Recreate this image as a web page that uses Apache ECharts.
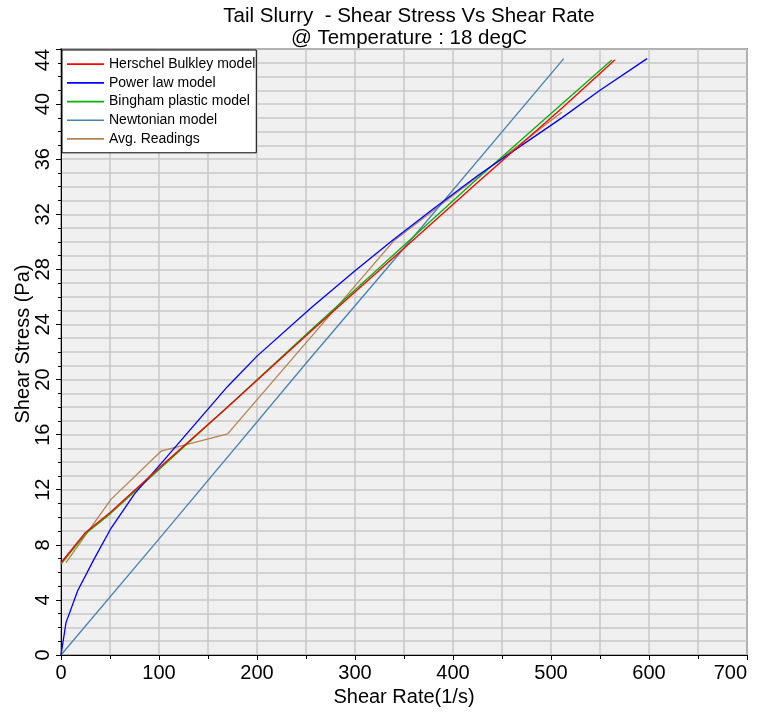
<!DOCTYPE html>
<html>
<head>
<meta charset="utf-8">
<script src="https://cdn.jsdelivr.net/npm/echarts@6/dist/echarts.min.js"></script>
<style>
html,body{margin:0;padding:0;background:#fff;}
#chart{width:757px;height:714px;}
</style>
</head>
<body>
<div id="chart"></div>
<script>
// ---- data ----
const seriesNames = ['Herschel Bulkley model', 'Power law model', 'Bingham plastic model', 'Newtonian model', 'Avg. Readings'];

const hbX = [0, 25, 51, 102, 170, 255, 340, 425, 511, 565];
const hbY = [6.7, 8.9, 10.4, 13.7, 18.0, 23.5, 28.9, 34.3, 39.7, 43.2];

const powerX = [0, 5.1, 17, 34, 51, 75, 102, 170, 200, 255, 300, 340, 380, 425, 470, 511, 550, 598];
const powerY = [0, 2.35, 4.67, 7.0, 9.2, 11.7, 13.9, 19.5, 21.7, 25.2, 27.9, 30.2, 32.4, 34.8, 37.0, 39.0, 41.0, 43.3];

const binghamX = [0, 25, 51, 102, 170, 255, 340, 425, 511, 562];
const binghamY = [6.6, 8.8, 10.3, 13.6, 18.0, 23.6, 29.1, 34.6, 40.0, 43.2];

const newtonX = [0, 102, 255, 340, 513];
const newtonY = [0, 8.6, 21.6, 28.7, 43.3];

const readX = [5.1, 51, 102, 170, 340, 511];
const readY = [6.7, 11.3, 14.8, 16.05, 30.1, 39.4];

const xTicks = [0, 100, 200, 300, 400, 500, 600, 700];
const yTicks = [0, 4, 8, 12, 16, 20, 24, 28, 32, 36, 40, 44];

const titleText = 'Tail Slurry  - Shear Stress Vs Shear Rate\n@ Temperature : 18 degC';
const xName = 'Shear Rate(1/s)';
const yName = 'Shear Stress (Pa)';

// ---- build ----
function pairs(xs, ys) { return xs.map((x, i) => [x, ys[i]]); }
const colors = ['#FF0000', '#0000FF', '#00B400', '#4682B4', '#B5834F'];
const dataSets = [pairs(hbX, hbY), pairs(powerX, powerY), pairs(binghamX, binghamY), pairs(newtonX, newtonY), pairs(readX, readY)];

const FONT = "'Liberation Sans', Arial, sans-serif";
const gridLine = { show: true, lineStyle: { color: '#C8C8C8', width: 1.5 } };
const lineIcon = 'path://M0,0 M37,14 M0,6.3 L37,6.3 L37,8 L0,8 Z';

const chart = echarts.init(document.getElementById('chart'), null, { renderer: 'canvas' });
chart.setOption({
  animation: false,
  backgroundColor: '#FFFFFF',
  title: {
    text: titleText,
    left: 404,
    textAlign: 'center',
    top: 0,
    textStyle: { fontFamily: FONT, fontSize: 20.5, fontWeight: 'normal', color: '#000', lineHeight: 22 }
  },
  legend: {
    orient: 'vertical',
    left: 62,
    top: 50,
    data: seriesNames.map(n => ({ name: n, icon: lineIcon })),
    backgroundColor: '#FFFFFF',
    borderColor: '#000',
    borderWidth: 1,
    borderRadius: 0,
    padding: [7, 1, 7, 5],
    itemGap: 4.7,
    itemWidth: 37,
    itemHeight: 14,
    textStyle: { fontFamily: FONT, fontSize: 14, color: '#000' }
  },
  grid: {
    left: 61, right: 10, top: 49, bottom: 59,
    containLabel: false,
    outerBoundsMode: 'none',
    show: true,
    backgroundColor: '#F0F0F0',
    borderColor: '#404040',
    borderWidth: 1.5
  },
  xAxis: {
    type: 'value',
    min: xTicks[0],
    max: xTicks[xTicks.length - 1],
    interval: xTicks[1] - xTicks[0],
    name: xName,
    nameLocation: 'middle',
    nameGap: 32,
    nameMoveOverlap: false,
    nameTextStyle: { fontFamily: FONT, fontSize: 20, color: '#000' },
    axisLine: { show: true, onZero: false, lineStyle: { color: '#000', width: 1 } },
    axisTick: { show: true, length: 5, lineStyle: { color: '#000' } },
    minorTick: { show: true, splitNumber: 2, length: 4, lineStyle: { color: '#000' } },
    axisLabel: { fontFamily: FONT, fontSize: 20, color: '#000', margin: 8, alignMaxLabel: 'right' },
    splitLine: gridLine,
    minorSplitLine: gridLine
  },
  yAxis: {
    type: 'value',
    min: yTicks[0],
    max: yTicks[yTicks.length - 1],
    interval: yTicks[1] - yTicks[0],
    name: yName,
    nameLocation: 'middle',
    nameGap: 28,
    nameRotate: 90,
    nameMoveOverlap: false,
    nameTextStyle: { fontFamily: FONT, fontSize: 20, color: '#000', padding: [0, 0, 0, 16] },
    axisLine: { show: true, onZero: false, lineStyle: { color: '#000', width: 1 } },
    axisTick: { show: true, length: 5, lineStyle: { color: '#000' } },
    minorTick: { show: true, splitNumber: 4, length: 3, lineStyle: { color: '#000' } },
    axisLabel: { fontFamily: FONT, fontSize: 20, color: '#000', rotate: 90, margin: 8, alignMaxLabel: 'right' },
    splitLine: gridLine,
    minorSplitLine: gridLine
  },
  series: seriesNames.map((n, i) => ({
    name: n,
    type: 'line',
    data: dataSets[i],
    symbol: 'none',
    showSymbol: false,
    color: colors[i],
    lineStyle: { color: colors[i], width: 1.3 },
    z: 10 - i
  }))
});
</script>
</body>
</html>
